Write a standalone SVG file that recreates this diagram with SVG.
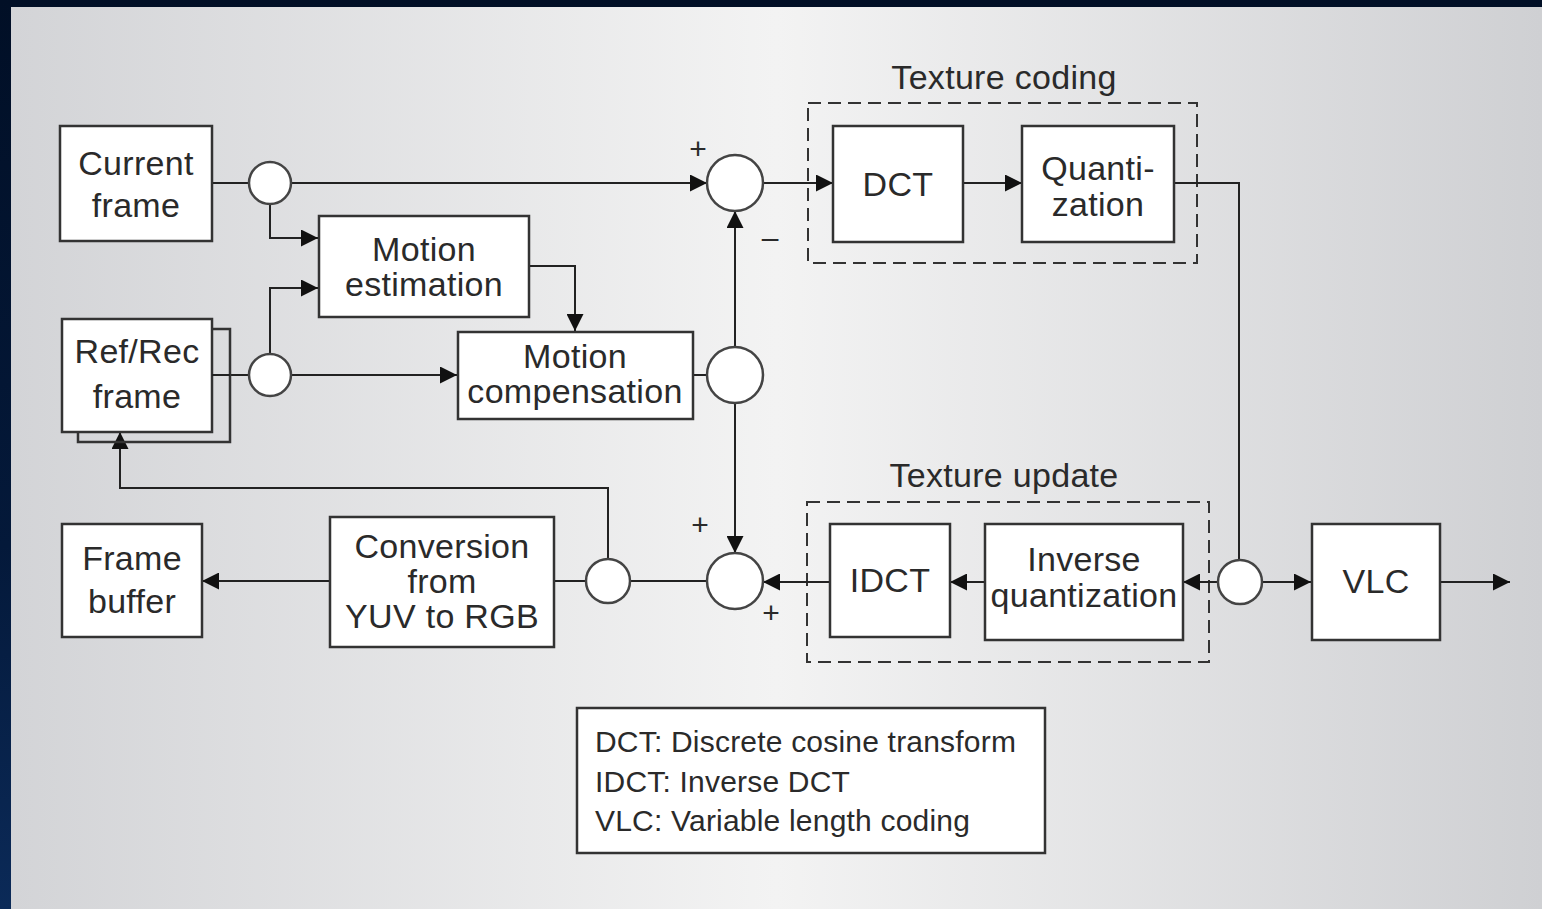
<svg xmlns="http://www.w3.org/2000/svg" width="1542" height="909" viewBox="0 0 1542 909">
<defs>
<linearGradient id="bg" x1="0" y1="0" x2="1" y2="0">
<stop offset="0" stop-color="#d3d4d7"/>
<stop offset="0.5" stop-color="#f3f3f3"/>
<stop offset="1" stop-color="#cfd0d3"/>
</linearGradient>
<linearGradient id="navy" x1="0" y1="0" x2="0" y2="1">
<stop offset="0" stop-color="#010f26"/>
<stop offset="0.6" stop-color="#04193a"/>
<stop offset="1" stop-color="#0b2a58"/>
</linearGradient>
<marker id="arr" markerUnits="userSpaceOnUse" markerWidth="17" markerHeight="17" viewBox="0 0 10 10" refX="10" refY="5" orient="auto">
<path d="M0,0 L10,5 L0,10 z" fill="#111"/>
</marker>
<style>
.box{fill:#fff;stroke:#333;stroke-width:2.5}
.cir{fill:#fff;stroke:#444;stroke-width:2.5}
.dash{fill:none;stroke:#333;stroke-width:2;stroke-dasharray:13 7}
.ln{fill:none;stroke:#222;stroke-width:2}
.ar{marker-end:url(#arr)}
text{font-family:"Liberation Sans",Arial,Helvetica,sans-serif;fill:#2a2a2a;font-size:34px;letter-spacing:0.3px}
.c{text-anchor:middle}
.lg{font-size:30px;letter-spacing:0.2px}
.sg{font-size:30px;letter-spacing:0}
</style>
</defs>
<rect x="0" y="0" width="1542" height="909" fill="url(#navy)"/>
<rect x="11" y="7" width="1531" height="902" fill="url(#bg)"/>

<g id="texture-coding">
<rect class="dash" x="808" y="103" width="389" height="160"/>
<text class="c" x="1004" y="89">Texture coding</text>
</g>
<g id="texture-update">
<rect class="dash" x="807" y="502" width="402" height="160"/>
<text class="c" x="1004" y="487">Texture update</text>
</g>

<g id="connectors">
<path class="ln" d="M212,183 H249"/>
<path class="ln ar" d="M291,183 H707"/>
<path class="ln ar" d="M270,204 V238 H318"/>
<path class="ln" d="M212,375 H249"/>
<path class="ln ar" d="M270,354 V288 H318"/>
<path class="ln ar" d="M291,375 H457"/>
<path class="ln ar" d="M529,266 H575 V331"/>
<path class="ln" d="M693,375 H707"/>
<path class="ln ar" d="M735,347 V211"/>
<path class="ln ar" d="M735,403 V553"/>
<path class="ln ar" d="M763,183 H833"/>
<path class="ln ar" d="M963,183 H1022"/>
<path class="ln" d="M1174,183 H1239 V560"/>
<path class="ln ar" d="M1262,582 H1311"/>
<path class="ln ar" d="M1440,582 H1510"/>
<path class="ln ar" d="M1218,582 H1183"/>
<path class="ln ar" d="M985,582 H950"/>
<path class="ln ar" d="M830,582 H763"/>
<path class="ln" d="M707,581 H630"/>
<path class="ln" d="M586,581 H554"/>
<path class="ln ar" d="M330,581 H202"/>
<path class="ln ar" d="M608,559 V488 H120 V432"/>
</g>

<g id="current-frame">
<rect class="box" x="60" y="126" width="152" height="115"/>
<text class="c" x="136" y="175">Current</text>
<text class="c" x="136" y="217">frame</text>
</g>
<g id="ref-rec-frame">
<rect class="box" x="78" y="329" width="152" height="113" style="fill:none"/>
<rect class="box" x="62" y="319" width="150" height="113"/>
<path class="ln" d="M212,375 H230"/>
<text class="c" x="137" y="363">Ref/Rec</text>
<text class="c" x="137" y="408">frame</text>
</g>
<g id="motion-estimation">
<rect class="box" x="319" y="216" width="210" height="101"/>
<text class="c" x="424" y="261">Motion</text>
<text class="c" x="424" y="296">estimation</text>
</g>
<g id="motion-compensation">
<rect class="box" x="458" y="332" width="235" height="87"/>
<text class="c" x="575" y="368">Motion</text>
<text class="c" x="575" y="403">compensation</text>
</g>
<g id="dct">
<rect class="box" x="833" y="126" width="130" height="116"/>
<text class="c" x="898" y="196">DCT</text>
</g>
<g id="quantization">
<rect class="box" x="1022" y="126" width="152" height="116"/>
<text class="c" x="1098" y="180">Quanti-</text>
<text class="c" x="1098" y="216">zation</text>
</g>
<g id="idct">
<rect class="box" x="830" y="524" width="120" height="113"/>
<text class="c" x="890" y="592">IDCT</text>
</g>
<g id="inverse-quantization">
<rect class="box" x="985" y="524" width="198" height="116"/>
<text class="c" x="1084" y="571">Inverse</text>
<text class="c" x="1084" y="607">quantization</text>
</g>
<g id="vlc">
<rect class="box" x="1312" y="524" width="128" height="116"/>
<text class="c" x="1376" y="593">VLC</text>
</g>
<g id="frame-buffer">
<rect class="box" x="62" y="524" width="140" height="113"/>
<text class="c" x="132" y="570">Frame</text>
<text class="c" x="132" y="613">buffer</text>
</g>
<g id="conversion">
<rect class="box" x="330" y="517" width="224" height="130"/>
<text class="c" x="442" y="558">Conversion</text>
<text class="c" x="442" y="593">from</text>
<text class="c" x="442" y="628">YUV to RGB</text>
</g>

<g id="split-1"><circle class="cir" cx="270" cy="183" r="21"/></g>
<g id="split-2"><circle class="cir" cx="270" cy="375" r="21"/></g>
<g id="sum-top"><circle class="cir" cx="735" cy="183" r="28"/>
<text class="c sg" x="698" y="159">+</text>
<text class="c sg" x="770" y="248">–</text></g>
<g id="split-3"><circle class="cir" cx="735" cy="375" r="28"/></g>
<g id="sum-bottom"><circle class="cir" cx="735" cy="581" r="28"/>
<text class="c sg" x="700" y="535">+</text>
<text class="c sg" x="771" y="623">+</text></g>
<g id="split-4"><circle class="cir" cx="608" cy="581" r="22"/></g>
<g id="split-5"><circle class="cir" cx="1240" cy="582" r="22"/></g>

<g id="legend">
<rect class="box" x="577" y="708" width="468" height="145"/>
<text class="lg" x="595" y="752">DCT: Discrete cosine transform</text>
<text class="lg" x="595" y="792">IDCT: Inverse DCT</text>
<text class="lg" x="595" y="831">VLC: Variable length coding</text>
</g>
</svg>
